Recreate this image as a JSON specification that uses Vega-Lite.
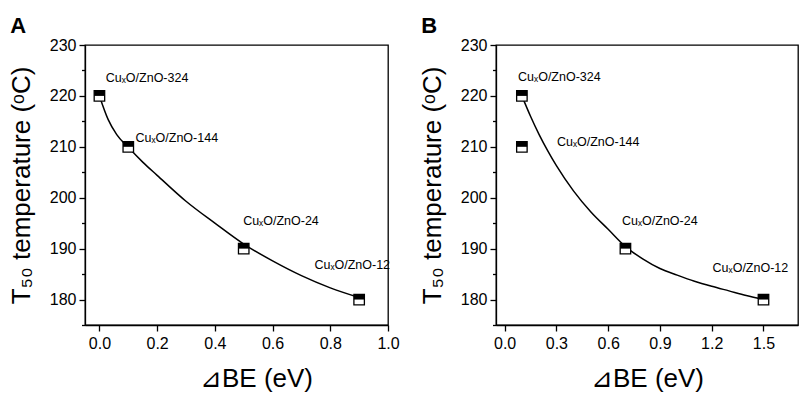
{
  "$schema": "https://vega.github.io/schema/vega-lite/v6.json",
  "padding": {"left": 7, "top": 14, "right": 0, "bottom": 0},
  "spacing": 18,
  "datasets": {
    "A_points": [
      {"x": 0.0, "y": 220},
      {"x": 0.1, "y": 210},
      {"x": 0.5, "y": 190},
      {"x": 0.9, "y": 180}
    ],
    "A_curve": [
      {"x": 0.0, "y": 220.0},
      {"x": 0.03, "y": 215.4},
      {"x": 0.06, "y": 212.4},
      {"x": 0.1, "y": 209.9},
      {"x": 0.15, "y": 207.0},
      {"x": 0.2, "y": 204.4},
      {"x": 0.3, "y": 199.3},
      {"x": 0.4, "y": 195.0},
      {"x": 0.5, "y": 190.9},
      {"x": 0.6, "y": 187.6},
      {"x": 0.7, "y": 184.7},
      {"x": 0.8, "y": 182.3},
      {"x": 0.9, "y": 180.4}
    ],
    "A_labels": [
      {"x": 0.022, "y": 222.75, "label": "CuₓO/ZnO-324"},
      {"x": 0.125, "y": 211.0, "label": "CuₓO/ZnO-144"},
      {"x": 0.498, "y": 194.65, "label": "CuₓO/ZnO-24"},
      {"x": 0.745, "y": 186.0, "label": "CuₓO/ZnO-12"}
    ],
    "B_points": [
      {"x": 0.1, "y": 220},
      {"x": 0.1, "y": 210},
      {"x": 0.7, "y": 190},
      {"x": 1.5, "y": 180}
    ],
    "B_curve": [
      {"x": 0.1, "y": 220.0},
      {"x": 0.15, "y": 216.0},
      {"x": 0.2, "y": 212.4},
      {"x": 0.25, "y": 209.2},
      {"x": 0.3, "y": 206.3},
      {"x": 0.4, "y": 201.3},
      {"x": 0.5, "y": 197.2},
      {"x": 0.6, "y": 193.8},
      {"x": 0.7, "y": 190.4},
      {"x": 0.8, "y": 188.0},
      {"x": 0.9, "y": 186.1},
      {"x": 1.0, "y": 184.8},
      {"x": 1.1, "y": 183.6},
      {"x": 1.2, "y": 182.6},
      {"x": 1.3, "y": 181.7},
      {"x": 1.4, "y": 180.8},
      {"x": 1.5, "y": 180.0}
    ],
    "B_labels": [
      {"x": 0.078, "y": 222.9, "label": "CuₓO/ZnO-324"},
      {"x": 0.303, "y": 210.2, "label": "CuₓO/ZnO-144"},
      {"x": 0.68, "y": 194.65, "label": "CuₓO/ZnO-24"},
      {"x": 1.205, "y": 185.35, "label": "CuₓO/ZnO-12"}
    ]
  },
  "hconcat": [
    {
      "width": 303,
      "height": 280,
      "title": {"text": "A", "anchor": "start", "frame": "bounds", "fontSize": 22, "fontWeight": "bold", "font": "Liberation Sans", "color": "black", "offset": -1, "dx": 2},
      "resolve": {"axis": {"y": "independent"}},
      "layer": [
        {
          "data": {"name": "A_curve"},
          "mark": {"type": "line", "interpolate": "monotone", "color": "black", "strokeWidth": 1.5},
          "encoding": {
            "x": {"field": "x", "type": "quantitative", "scale": {"domain": [-0.05, 1.0], "nice": false, "zero": false},
              "title": "⊿BE (eV)",
              "axis": {"values": [0, 0.1, 0.2, 0.3, 0.4, 0.5, 0.6, 0.7, 0.8, 0.9, 1.0],
                "labelExpr": "round(datum.value*100) % 20 === 0 ? format(datum.value, '.1f') : ''",
                "tickSize": {"condition": {"test": "round(datum.value*100) % 20 === 0", "value": 6}, "value": 3.5},
                "labelPadding": 4, "titlePadding": 14, "titleX": 171}},
            "y": {"field": "y", "type": "quantitative", "scale": {"domain": [175, 230], "nice": false, "zero": false},
              "title": "T₅₀ temperature (ᵒC)",
              "axis": {"values": [180, 190, 200, 210, 220, 230], "tickSize": 6, "orient": "left", "titlePadding": 15}}
          }
        },
        {
          "data": {"name": "A_points"},
          "mark": {"type": "point", "shape": "square", "filled": true, "fill": "white", "stroke": "black", "strokeWidth": 1.3, "size": 110, "opacity": 1},
          "encoding": {"x": {"field": "x", "type": "quantitative"}, "y": {"field": "y", "type": "quantitative", "axis": null}}
        },
        {
          "data": {"name": "A_points"},
          "mark": {"type": "point", "shape": "M-1,-1L1,-1L1,0L-1,0Z", "filled": true, "fill": "black", "strokeWidth": 0, "size": 110, "opacity": 1},
          "encoding": {"x": {"field": "x", "type": "quantitative"}, "y": {"field": "y", "type": "quantitative", "axis": null}}
        },
        {
          "data": {"name": "A_labels"},
          "mark": {"type": "text", "align": "left", "baseline": "alphabetic", "fontSize": 12.5, "font": "Liberation Sans", "color": "black"},
          "encoding": {"x": {"field": "x", "type": "quantitative"},
            "y": {"field": "y", "type": "quantitative", "title": null,
              "axis": {"values": [175, 185, 195, 205, 215, 225], "labels": false, "domain": false, "tickSize": 3.5, "orient": "left", "title": null}},
            "text": {"field": "label"}}
        }
      ]
    },
    {
      "width": 302,
      "height": 280,
      "title": {"text": "B", "anchor": "start", "frame": "bounds", "fontSize": 22, "fontWeight": "bold", "font": "Liberation Sans", "color": "black", "offset": -1, "dx": 2},
      "resolve": {"axis": {"y": "independent"}},
      "layer": [
        {
          "data": {"name": "B_curve"},
          "mark": {"type": "line", "interpolate": "monotone", "color": "black", "strokeWidth": 1.5},
          "encoding": {
            "x": {"field": "x", "type": "quantitative", "scale": {"domain": [-0.05, 1.7], "nice": false, "zero": false},
              "title": "⊿BE (eV)",
              "axis": {"values": [0, 0.15, 0.3, 0.45, 0.6, 0.75, 0.9, 1.05, 1.2, 1.35, 1.5, 1.65],
                "labelExpr": "round(datum.value*100) % 30 === 0 ? format(datum.value, '.1f') : ''",
                "tickSize": {"condition": {"test": "round(datum.value*100) % 30 === 0", "value": 6}, "value": 3.5},
                "labelPadding": 4, "titlePadding": 14}},
            "y": {"field": "y", "type": "quantitative", "scale": {"domain": [175, 230], "nice": false, "zero": false},
              "title": "T₅₀ temperature (ᵒC)",
              "axis": {"values": [180, 190, 200, 210, 220, 230], "tickSize": 6, "orient": "left", "titlePadding": 15}}
          }
        },
        {
          "data": {"name": "B_points"},
          "mark": {"type": "point", "shape": "square", "filled": true, "fill": "white", "stroke": "black", "strokeWidth": 1.3, "size": 110, "opacity": 1},
          "encoding": {"x": {"field": "x", "type": "quantitative"}, "y": {"field": "y", "type": "quantitative", "axis": null}}
        },
        {
          "data": {"name": "B_points"},
          "mark": {"type": "point", "shape": "M-1,-1L1,-1L1,0L-1,0Z", "filled": true, "fill": "black", "strokeWidth": 0, "size": 110, "opacity": 1},
          "encoding": {"x": {"field": "x", "type": "quantitative"}, "y": {"field": "y", "type": "quantitative", "axis": null}}
        },
        {
          "data": {"name": "B_labels"},
          "mark": {"type": "text", "align": "left", "baseline": "alphabetic", "fontSize": 12.5, "font": "Liberation Sans", "color": "black"},
          "encoding": {"x": {"field": "x", "type": "quantitative"},
            "y": {"field": "y", "type": "quantitative", "title": null,
              "axis": {"values": [175, 185, 195, 205, 215, 225], "labels": false, "domain": false, "tickSize": 3.5, "orient": "left", "title": null}},
            "text": {"field": "label"}}
        }
      ]
    }
  ],
  "config": {
    "font": "Liberation Sans",
    "view": {"stroke": "black", "strokeWidth": 1.3},
    "axis": {"domainColor": "black", "domainWidth": 1.3, "tickColor": "black", "tickWidth": 1.3,
      "labelColor": "black", "titleColor": "black", "labelFont": "Liberation Sans", "titleFont": "Liberation Sans",
      "labelFontSize": 16, "titleFontSize": 26, "titleFontWeight": "normal", "grid": false,
      "labelPadding": 3, "labelFlush": false, "labelOverlap": false}
  }
}
